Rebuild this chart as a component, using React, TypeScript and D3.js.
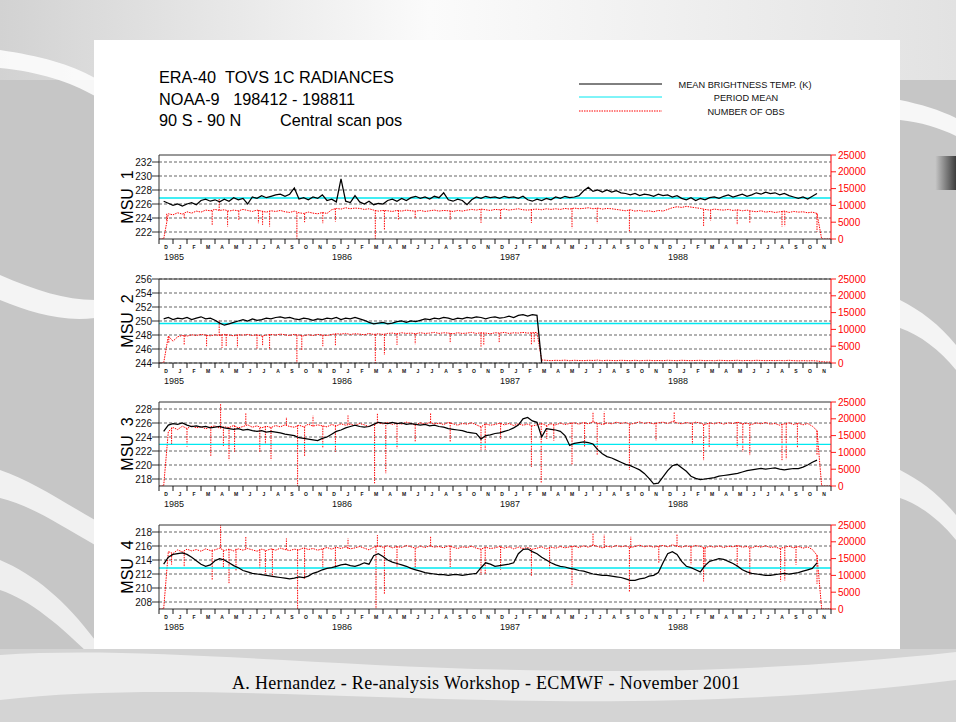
import React from "react"
import * as d3 from "d3"

// ---- data (time axis: months from 1 Dec 1984, one sample every 1/3 month) ----
const STEP = 1 / 3
const monthLetters = ["D", "J", "F", "M", "A", "M", "J", "J", "A", "S", "O", "N"]
const yearLabels = ["1985", "1986", "1987", "1988"]
const obsTicks = [0, 5000, 10000, 15000, 20000, 25000]

const msu1Ticks = [222, 224, 226, 228, 230, 232]
const msu2Ticks = [244, 246, 248, 250, 252, 254, 256]
const msu3Ticks = [218, 220, 222, 224, 226, 228]
const msu4Ticks = [208, 210, 212, 214, 216, 218]
const periodMeans = [226.85, 249.65, 222.95, 212.85]

// mean brightness temperature (K)
const msu1Temp = [
  null, 226.4, 226.1, 225.8, 226.0, 225.7,
  226.0, 226.2, 225.9, 226.5, 226.7, 226.4,
  226.6, 226.3, 226.7, 226.4, 226.9, 226.6,
  226.8, 226.0, 227.0, 226.8, 227.2, 226.9,
  227.1, 227.3, 227.4, 227.1, 227.4, 228.3,
  226.7, 226.9, 226.6, 227.0, 226.8, 227.3,
  226.5, 226.7, 226.3, 229.6, 226.4, 226.2,
  227.2, 226.3, 226.0, 226.4, 225.9, 226.1,
  226.0, 226.5, 226.7, 226.4, 226.8, 226.5,
  226.9, 227.1, 226.8, 227.0, 226.7, 227.1,
  226.9, 227.6, 226.6, 226.4, 226.7, 226.5,
  225.9, 226.6, 227.0, 226.8, 227.1, 226.9,
  227.0, 226.8, 227.1, 226.9, 227.0, 226.8,
  227.1, 226.6, 226.4, 226.7, 226.5, 226.8,
  226.6, 227.0, 226.8, 227.1, 226.9, 227.0,
  227.2, 227.9, 228.4, 227.8, 228.0, 227.7,
  228.0, 227.7, 227.9, 227.6, 227.5, 227.3,
  227.5, 227.2, 227.4, 227.3, 227.1, 227.4,
  227.2, 227.3, 227.0, 227.2, 226.8, 226.6,
  226.9, 226.5, 226.8, 226.6, 226.9, 227.0,
  226.8, 227.1, 227.3, 227.0, 227.2, 227.4,
  227.1, 227.3, 227.6, 227.4, 227.7, 227.5,
  227.6, 227.3, 227.5, 227.2, 227.0, 226.8,
  227.0, 226.7, 227.1, 227.5,
]
const msu2Temp = [
  null, 250.3, 250.5, 250.2, 250.4, 250.3,
  250.5, 250.2, 250.4, 250.6, 250.3, 250.4,
  250.1, 249.7, 249.4, 249.6, 249.8, 250.0,
  250.2, 250.0, 250.3, 250.1, 250.2, 250.4,
  250.3, 250.5, 250.6, 250.4, 250.5, 250.3,
  250.2, 250.4, 250.3, 250.1, 250.3, 250.2,
  250.4, 250.3, 250.5, 250.2, 250.4, 250.3,
  250.5, 250.3, 250.1, 249.8, 249.6, 249.7,
  249.8, 249.6, 249.7, 249.9, 250.0, 249.8,
  250.0, 249.9, 250.1, 250.3, 250.2, 250.4,
  250.3, 250.5, 250.4, 250.2, 250.4, 250.3,
  250.5, 250.4, 250.6, 250.5, 250.3, 250.5,
  250.6, 250.4, 250.5, 250.7, 250.5, 250.8,
  250.9, 250.7, 250.9, 250.8, 244.0,
]
const msu3Temp = [
  null, 224.8, 225.7, 225.9, 225.8, 226.0,
  225.7, 225.5, 225.6, 225.4, 225.5, 225.3,
  225.4, 225.5, 225.3, 225.2, 225.1, 225.2,
  225.0, 225.1, 224.9, 224.8, 224.9, 224.7,
  224.8, 224.7, 224.6, 224.4, 224.3, 224.2,
  223.9, 223.8, 223.7, 223.6, 223.5, 223.8,
  224.0, 224.4, 224.8, 225.0, 225.3, 225.5,
  225.7, 225.5, 225.4, 225.5, 225.8, 226.1,
  226.0, 225.9, 226.1, 225.9, 226.0, 225.8,
  225.9, 225.8, 225.7, 225.8, 225.6, 225.7,
  225.5, 225.4, 225.2, 225.1, 225.0, 224.9,
  224.7, 224.6, 224.5, 223.7, 224.2, 224.3,
  224.5, 224.6, 224.8, 225.0, 225.3, 225.7,
  226.6, 226.8, 226.3, 226.1, 224.0, 225.2,
  225.1, 225.0, 224.8, 224.2, 222.8, 223.1,
  223.2, 223.3, 223.2, 223.0, 222.2, 221.6,
  221.2, 221.0, 220.7, 220.4, 220.1, 219.9,
  219.6, 219.3, 218.8, 218.1, 217.3, 217.4,
  218.3, 219.2, 219.9, 220.1, 219.6, 219.1,
  218.4, 218.1, 217.9, 218.0, 218.1, 218.2,
  218.4, 218.5, 218.6, 218.7, 218.8, 219.0,
  219.2, 219.3, 219.4, 219.5, 219.4, 219.5,
  219.6, 219.4, 219.3, 219.4, 219.5, 219.5,
  219.7, 220.0, 220.4, 220.7,
]
const msu4Temp = [
  null, 213.4, 214.4, 214.8, 214.9, 215.0,
  214.8, 214.4, 213.9, 213.4, 213.1, 213.3,
  213.9, 214.2, 214.0, 213.6, 213.2, 212.9,
  212.5, 212.3, 212.1, 212.0, 211.9, 211.8,
  211.7, 211.6, 211.5, 211.4, 211.3, 211.4,
  211.6, 211.5, 211.7, 212.1, 212.3, 212.6,
  212.8, 212.9, 213.1, 213.3, 213.4, 213.2,
  213.1, 213.3, 213.6, 213.4, 214.6, 214.9,
  214.5, 214.0, 213.7, 213.5, 213.3, 213.1,
  212.8, 212.6, 212.4, 212.2, 212.1, 212.0,
  211.9, 211.9, 211.8, 211.9, 211.9, 211.8,
  211.9, 212.0, 212.1, 212.9, 213.6, 213.4,
  213.1, 213.2, 213.3, 213.4, 213.6, 214.9,
  215.5, 215.6, 215.2, 214.9, 214.4, 214.0,
  213.6, 213.3, 213.1, 213.0, 212.8, 212.7,
  212.5, 212.4, 212.2, 212.0, 211.9, 211.8,
  211.8, 211.7, 211.6, 211.5, 211.3, 211.1,
  211.1, 211.3, 211.4, 211.7, 211.8, 212.2,
  213.6, 214.9, 215.2, 214.8, 213.8, 213.1,
  212.9, 212.6, 212.3, 213.2, 213.8, 214.0,
  214.2, 214.1, 213.8, 213.5, 213.1, 212.6,
  212.3, 212.1, 212.0, 211.9, 211.8, 211.8,
  211.9, 212.0, 212.1, 212.0, 212.1, 212.2,
  212.4, 212.6, 212.8, 213.6,
]

// number of observations
const msu1Obs = [
  0, 0, 7500, 7200, 7800, 7400,
  8100, 7700, 8300, 8000, 8600, 8400,
  8800, 8500, 8700, 8300, 8600, 8400,
  8800, 8500, 8200, 8600, 8300, 8000,
  8400, 8200, 8500, 8100, 7900, 8300,
  7800, 7600, 8000, 7700, 7500, 7900,
  7600, 8700, 9100, 8900, 9300, 9000,
  9200, 9100, 8800, 9000, 8600, 8300,
  8500, 8400, 8200, 8500, 8300, 8600,
  8400, 8300, 8500, 8200, 8400, 8600,
  8300, 8500, 8400, 8200, 8500, 8300,
  8600, 8800, 8600, 8900, 8700, 8500,
  8800, 8700, 8900, 8600, 8800, 9000,
  8700, 8600, 8800, 8900, 8700, 9000,
  8800, 9000, 8800, 9100, 8900, 9200,
  9000, 9100, 9300, 9000, 9200, 8900,
  9100, 9000, 8800, 8600, 8400, 8700,
  8300, 8500, 8200, 8400, 8100, 8500,
  8300, 8800, 9300, 9600, 9400, 9700,
  9500, 9300, 9100, 8800, 8600, 8900,
  8700, 8600, 8800, 8500, 8700, 8400,
  8600, 8300, 8100, 8400, 8000, 8200,
  7900, 8100, 8300, 7900, 8200, 8000,
  8100, 7800, 8000, 7600, 0, 0,
  0,
]
const msu2Obs = [
  0, 0, 8000, 6500, 7800, 8200,
  8000, 8400, 8200, 8500, 8300, 8100,
  8400, 8200, 8500, 8300, 8100, 8400,
  8300, 8500, 8200, 8400, 8000, 8300,
  8500, 8300, 8600, 8400, 8200, 8500,
  8300, 8100, 8400, 8200, 8500, 8300,
  8200, 8500, 8700, 8600, 8800, 8500,
  8700, 8600, 8400, 8800, 8500, 8700,
  8500, 8800, 8900, 8700, 9000, 8800,
  8900, 8700, 9000, 8800, 8900, 9100,
  8800, 9000, 8900, 8700, 9000, 8800,
  8900, 9100, 8800, 9000, 8900, 8700,
  9000, 8900, 9100, 8800, 9000, 8900,
  9100, 8900, 9000, 9100, 900, 800,
  700, 800, 750, 850, 700, 800,
  750, 700, 800, 750, 850, 700,
  800, 750, 700, 800, 750, 700,
  800, 700, 750, 800, 700, 750,
  700, 800, 750, 700, 800, 750,
  700, 750, 800, 700, 750, 700,
  800, 750, 700, 750, 800, 700,
  750, 700, 800, 750, 700, 750,
  700, 750, 700, 800, 700, 650,
  700, 650, 700, 600, 400, 300,
  300,
]
const msu3Obs = [
  0, 0, 16200, 17400, 16800, 17800,
  17100, 17900, 17300, 17700, 17000, 17600,
  17900, 17200, 17600, 17400, 18000, 17300,
  17700, 18200, 17500, 17900, 17300, 17800,
  17400, 18000, 17600, 18200, 17700, 17500,
  18100, 17600, 18400, 17800, 18200, 17900,
  17600, 18300, 17900, 18500, 18100, 18400,
  18000, 18600, 18200, 17700, 18300, 18800,
  18500, 18900, 18300, 18700, 18400, 19000,
  18600, 18200, 18800, 18400, 18900, 18500,
  18700, 18300, 18900, 18500, 18100, 18600,
  18400, 18800, 18200, 17600, 18500, 18100,
  18300, 18700, 18200, 18600, 18000, 18500,
  18100, 18400, 17900, 18200, 18600, 18000,
  18500, 18200, 18700, 18300, 18600, 18800,
  18400, 18900, 18500, 19100, 18700, 18300,
  18800, 18500, 19000, 18600, 18900, 18400,
  18700, 19100, 18600, 18900, 18500, 18800,
  19000, 18600, 19200, 18800, 18500, 18900,
  18600, 19000, 18700, 18300, 18800, 18500,
  18900, 18400, 18800, 18600, 19000, 18500,
  18700, 18300, 18800, 18500, 18900, 18400,
  18600, 18100, 18500, 18800, 18300, 18700,
  18200, 18600, 17800, 16500, 0, 0,
  0,
]
const msu4Obs = [
  0, 0, 17100, 16500, 17600, 17000,
  17800, 17300, 17700, 17200, 17900, 17400,
  17600, 18100, 17400, 17800, 17300, 17900,
  17500, 18000, 17600, 17200, 17800, 17400,
  17900, 17500, 18100, 17700, 17400, 17800,
  17600, 18200, 17700, 18000, 17500, 17900,
  18300, 17800, 18400, 18000, 18500, 17900,
  18200, 18600, 18100, 17600, 18400, 18700,
  18400, 18800, 18200, 18600, 18300, 18900,
  18500, 18100, 18700, 18300, 18800, 18400,
  18600, 18200, 18800, 18400, 18000, 18500,
  18300, 18700, 18100, 17800, 18400, 18000,
  18200, 18600, 18100, 18500, 17900, 18400,
  18000, 18300, 17800, 18100, 18500, 17900,
  18400, 18100, 18600, 18200, 18500, 18700,
  18300, 18800, 18400, 19000, 18600, 18200,
  18700, 18400, 18900, 18500, 18800, 18300,
  18600, 19000, 18500, 18800, 18400, 18700,
  18900, 18500, 19100, 18700, 18400, 18800,
  18500, 18900, 18600, 18200, 18700, 18400,
  18800, 18300, 18700, 18500, 18900, 18400,
  18600, 18200, 18700, 18400, 18800, 18300,
  18500, 18000, 18400, 18700, 18200, 18600,
  18100, 18500, 17700, 16000, 0, 0,
  0,
]

// single-day excursions of the obs count: [month, value]
const msu1Spikes = [
  [0.55, 5500], [1.8, 6000], [3.8, 4200], [4.3, 12100], [4.9, 3700], [5.7, 5500],
  [7.1, 4700], [7.4, 4200], [7.9, 3700], [9.85, 0], [10.4, 5000], [11.7, 4700],
  [12.6, 5200], [15.45, 0], [16.1, 2700], [17.1, 5700], [18.3, 6200], [20.8, 5800],
  [23.0, 4800], [24.4, 6000], [26.6, 4800], [29.5, 3200], [31.3, 4700], [33.6, 2200],
  [38.9, 3700], [39.4, 5500], [41.3, 4200], [42.2, 4700], [44.5, 3700], [44.7, 3800],
  [47.0, 2200],
]
const msu2Spikes = [
  [0.7, 5800], [1.8, 5300], [3.4, 5000], [4.3, 12800], [4.5, 4500], [4.8, 4800],
  [5.6, 4600], [7.0, 4300], [7.4, 5000], [7.9, 4000], [9.85, 0], [10.2, 3700],
  [11.7, 5000], [12.6, 5300], [15.45, 0], [16.1, 2400], [17.0, 5400], [18.3, 5600],
  [20.8, 5900], [23.0, 4900], [23.2, 5500], [24.3, 6100], [26.6, 5400], [26.8, 6000],
]
const msu3Spikes = [
  [0.9, 12200], [2.0, 11700], [3.7, 8700], [4.4, 24600], [4.6, 11700], [5.0, 7700],
  [5.4, 10200], [6.2, 21600], [7.2, 10200], [7.6, 12500], [8.0, 7700], [9.1, 20500],
  [9.9, 0], [10.4, 8700], [11.0, 20900], [11.7, 11200], [12.6, 10200], [13.5, 21000],
  [15.4, 800], [15.6, 21600], [16.2, 3800], [17.0, 11200], [18.3, 13200], [19.4, 21600],
  [20.8, 13200], [23.0, 10700], [23.3, 10800], [24.4, 14000], [26.6, 5700], [27.3, 800],
  [27.7, 14000], [28.2, 13500], [29.5, 6200], [30.4, 11700], [31.0, 22100], [31.3, 9200],
  [31.8, 22100], [33.6, 4800], [35.5, 13500], [36.8, 22100], [38.1, 12200], [38.9, 7700],
  [39.3, 11500], [41.3, 11500], [41.7, 10200], [42.2, 9200], [44.5, 7700], [44.8, 8000],
  [45.6, 11500], [47.0, 9200],
]
const msu4Spikes = [
  [0.9, 13200], [1.8, 12500], [3.8, 8700], [4.4, 25500], [4.6, 12500], [5.0, 7700],
  [5.5, 11500], [6.2, 21600], [7.2, 12000], [7.6, 10500], [8.1, 9500], [9.1, 21000],
  [9.9, 0], [10.4, 9000], [11.7, 12000], [12.6, 12000], [13.5, 21000], [15.5, 0],
  [15.6, 22000], [16.1, 4300], [17.0, 12500], [18.3, 12000], [19.4, 21500], [20.8, 12500],
  [23.0, 10200], [23.3, 10500], [24.4, 11700], [26.6, 9700], [27.9, 11800], [29.5, 6700],
  [31.0, 22600], [31.8, 22100], [33.6, 5200], [33.7, 21500], [35.7, 13500], [37.0, 22300],
  [38.0, 13200], [38.9, 8200], [39.0, 12500], [41.3, 12300], [42.2, 10200], [44.4, 8200],
  [44.7, 8500], [45.5, 13200], [47.0, 7500],
]

const panels = [
  { label: "MSU\u00a0\u00a01", domain: [221, 233], ticks: msu1Ticks, temp: msu1Temp, obs: msu1Obs, spikes: msu1Spikes },
  { label: "MSU\u00a0\u00a02", domain: [244, 256], ticks: msu2Ticks, temp: msu2Temp, obs: msu2Obs, spikes: msu2Spikes },
  { label: "MSU\u00a0\u00a03", domain: [217, 229], ticks: msu3Ticks, temp: msu3Temp, obs: msu3Obs, spikes: msu3Spikes },
  { label: "MSU\u00a0\u00a04", domain: [207, 219], ticks: msu4Ticks, temp: msu4Temp, obs: msu4Obs, spikes: msu4Spikes },
]

// ---- layout ----
const W = 956
const H = 722
const X0 = 159
const X1 = 831
const TOPS = [155, 279, 402, 525]
const PH = 84
const SANS = "'Liberation Sans', Arial, Helvetica, sans-serif"
const RED = "#ff0000"
const CYAN = "#00e8f0"

const x = d3.scaleLinear().domain([0, 48]).range([X0, X1])

const Panel = ({ p, top, idx }: { p: any; top: number; idx: number }) => {
  const bottom = top + PH
  const y = d3.scaleLinear().domain(p.domain).range([bottom, top])
  const y2 = d3.scaleLinear().domain([0, 25000]).range([bottom, top])

  const tempLine = d3
    .line<number | null>()
    .defined((d) => d != null)
    .x((_, i) => x(i * STEP))
    .y((d) => y(d as number))
  const obsLine = d3
    .line<number>()
    .x((_, i) => x(i * STEP))
    .y((d) => y2(d))

  const spikePath = p.spikes
    .map(([t, v]: number[]) => {
      const base = p.obs[Math.min(p.obs.length - 1, Math.round(t / STEP))]
      return `M${x(t)},${y2(base)}L${x(t)},${y2(v)}`
    })
    .join("")

  const months = d3.range(48)
  return (
    <g>
      <defs>
        <clipPath id={`clip${idx}`}>
          <rect x={X0} y={top} width={X1 - X0} height={PH} />
        </clipPath>
      </defs>
      {/* grid */}
      {p.ticks.map((v: number) => (
        <line key={v} x1={X0} x2={X1} y1={y(v)} y2={y(v)} stroke="#222" strokeWidth={0.7} strokeDasharray="3 2" />
      ))}
      <g clipPath={`url(#clip${idx})`}>
        <path d={obsLine(p.obs) ?? ""} fill="none" stroke={RED} strokeWidth={1} strokeDasharray="1.5 1" />
        <path d={spikePath} fill="none" stroke={RED} strokeWidth={1} strokeDasharray="1.5 1" />
        <line x1={X0} x2={X1} y1={y(periodMeans[idx])} y2={y(periodMeans[idx])} stroke={CYAN} strokeWidth={1.4} />
        <path d={tempLine(p.temp) ?? ""} fill="none" stroke="#000" strokeWidth={1.25} />
      </g>
      {/* frame */}
      <path d={`M${X1},${top}H${X0}V${bottom}H${X1}`} fill="none" stroke="#333" strokeWidth={1} />
      <line x1={X1} x2={X1} y1={top} y2={bottom} stroke={RED} strokeWidth={1} />
      {/* left axis */}
      {p.ticks.map((v: number) => (
        <g key={v}>
          <line x1={X0 - 7} x2={X0} y1={y(v)} y2={y(v)} stroke="#000" strokeWidth={0.8} />
          <text x={X0 - 7} y={y(v)} dy="0.36em" textAnchor="end" fontSize={10} fontFamily={SANS} fill="#111">
            {v}
          </text>
        </g>
      ))}
      {/* right axis */}
      {obsTicks.map((v) => (
        <g key={v}>
          <line x1={X1} x2={X1 + 5} y1={y2(v)} y2={y2(v)} stroke={RED} strokeWidth={0.9} />
          <text x={X1 + 7} y={y2(v)} dy="0.36em" fontSize={10} fontFamily={SANS} fill={RED}>
            {v}
          </text>
        </g>
      ))}
      {/* time axis */}
      {d3.range(49).map((m) => (
        <line key={m} x1={x(m)} x2={x(m)} y1={bottom} y2={bottom + 5} stroke="#000" strokeWidth={0.9} />
      ))}
      {months.map((m) => (
        <text key={m} x={x(m + 0.5)} y={bottom + 10} textAnchor="middle" fontSize={5} fontWeight="bold" fontFamily={SANS} fill="#111">
          {monthLetters[m % 12]}
        </text>
      ))}
      {yearLabels.map((yr, k) => (
        <text key={yr} x={x(k * 12 + 0.5) - 2} y={bottom + 21} fontSize={9} fontFamily={SANS} fill="#111">
          {yr}
        </text>
      ))}
      <text
        transform={`translate(133,${(top + bottom) / 2}) rotate(-90)`}
        textAnchor="middle"
        fontSize={16}
        fontFamily={SANS}
        fill="#000"
      >
        {p.label}
      </text>
    </g>
  )
}

const App = () => {
  return (
    <svg width={W} height={H} style={{ position: "absolute", left: 0, top: 0 }}>
      <defs>
        <linearGradient id="topGrad" x1="0" x2="1" y1="0" y2="0">
          <stop offset="0" stopColor="#d2d2d2" />
          <stop offset="0.45" stopColor="#fbfbfb" />
          <stop offset="1" stopColor="#e2e2e2" />
        </linearGradient>
        <linearGradient id="darkTab" x1="0" x2="1" y1="0" y2="0">
          <stop offset="0" stopColor="#c8c8c8" />
          <stop offset="1" stopColor="#3c3c3c" />
        </linearGradient>
      </defs>
      {/* slide background */}
      <rect width={W} height={H} fill="#c6c6c6" />
      <rect width={W} height={80} fill="url(#topGrad)" />
      <path d="M0,50 C40,56 70,64 95,78 L95,96 C70,82 40,72 0,68 Z" fill="#fff" opacity={0.85} />
      <path d="M0,275 C35,290 65,300 95,300 L95,318 C60,322 30,312 0,300 Z" fill="#fff" opacity={0.8} />
      <path d="M0,470 C30,480 60,500 95,520 L95,545 C60,525 30,505 0,498 Z" fill="#fff" opacity={0.75} />
      <path d="M0,560 C35,575 65,600 95,640 L95,660 C60,625 30,600 0,590 Z" fill="#fff" opacity={0.7} />
      <path d="M900,100 C920,104 940,110 956,118 L956,136 C940,128 920,122 900,120 Z" fill="#fff" opacity={0.85} />
      <path d="M900,300 C920,310 940,325 956,345 L956,370 C940,350 920,335 900,328 Z" fill="#fff" opacity={0.8} />
      <path d="M900,470 C920,480 940,495 956,515 L956,540 C940,520 920,505 900,498 Z" fill="#fff" opacity={0.75} />
      <rect x={935} y={156} width={21} height={34} fill="url(#darkTab)" />
      <rect y={649} width={W} height={73} fill="#d4d4d4" />
      <path d="M0,655 C220,640 520,700 956,652 L956,680 C560,730 240,672 0,700 Z" fill="#fff" opacity={0.55} />

      {/* white panel */}
      <rect x={94} y={40} width={806} height={609} fill="#fff" />

      {/* titles */}
      <g fontFamily={SANS} fill="#000" fontSize={16.3}>
        <text x={159} y={83}>{"ERA-40\u00a0\u00a0TOVS 1C RADIANCES"}</text>
        <text x={159} y={105}>{"NOAA-9\u00a0\u00a0\u00a0198412 - 198811"}</text>
        <text x={159} y={126}>90 S - 90 N</text>
        <text x={280} y={126}>Central scan pos</text>
      </g>

      {/* legend */}
      <line x1={579} x2={662} y1={84} y2={84} stroke="#000" strokeWidth={1} />
      <line x1={579} x2={662} y1={97} y2={97} stroke={CYAN} strokeWidth={1} />
      <line x1={579} x2={662} y1={111} y2={111} stroke={RED} strokeWidth={1} strokeDasharray="1.5 1" />
      <g fontFamily={SANS} fontSize={9.2} fill="#111" textAnchor="middle">
        <text x={745} y={87.5}>MEAN BRIGHTNESS TEMP. (K)</text>
        <text x={746} y={101}>PERIOD MEAN</text>
        <text x={746} y={115}>NUMBER OF OBS</text>
      </g>

      {panels.map((p, i) => (
        <Panel key={i} p={p} top={TOPS[i]} idx={i} />
      ))}

      <text x={486} y={689} textAnchor="middle" fontFamily="'Liberation Serif', 'Times New Roman', serif" fontSize={18} textLength={508} fill="#000">
        A. Hernandez - Re-analysis Workshop - ECMWF - November 2001
      </text>
    </svg>
  )
}

export default App
